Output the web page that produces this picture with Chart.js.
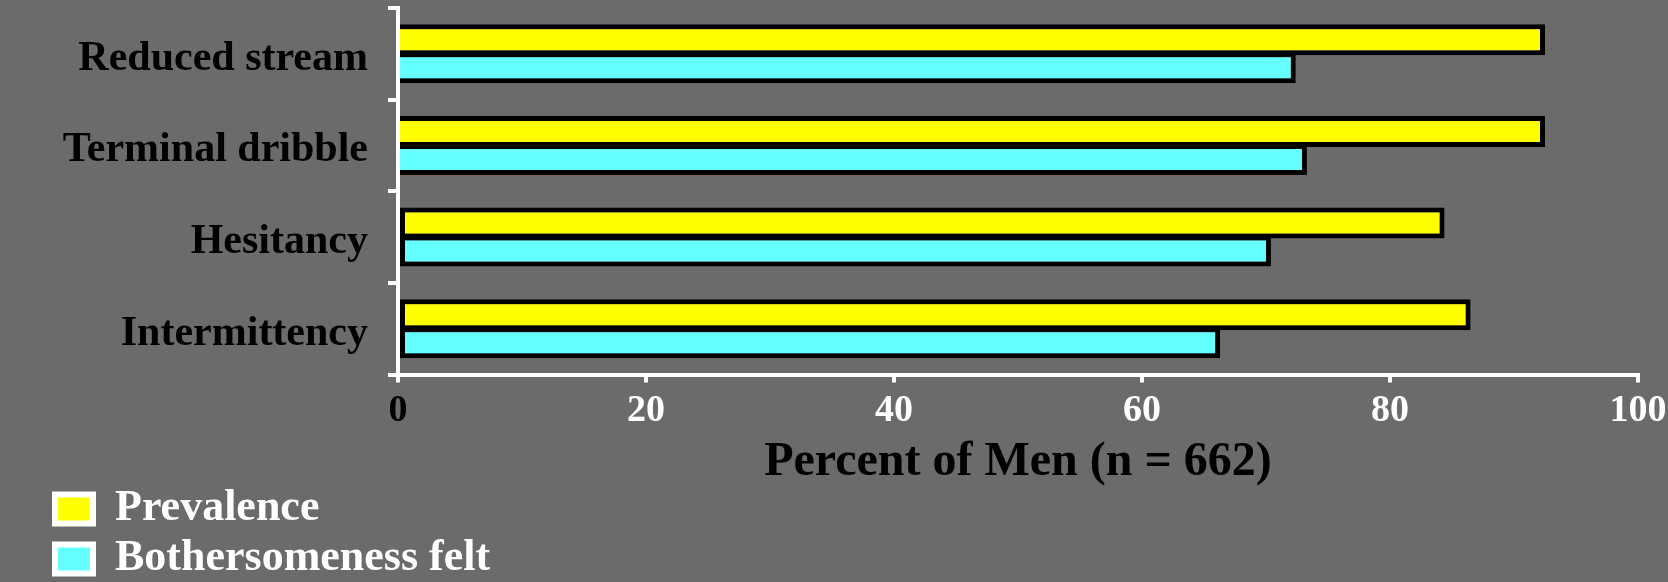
<!DOCTYPE html>
<html><head><meta charset="utf-8">
<script src="https://cdn.jsdelivr.net/npm/chart.js@4.4.0/dist/chart.umd.min.js"></script>
<style>html,body{margin:0;padding:0;background:#6b6b6b;} #wrap{width:1668px;height:582px;position:relative;} canvas{display:block;}</style>
</head><body><div id="wrap"><canvas id="c" width="1668" height="582"></canvas></div>
<script>
const categories = ['Reduced stream', 'Terminal dribble', 'Hesitancy', 'Intermittency'];
const prevalence = [92.5, 92.5, 84.4, 86.5];
const bothersomeness = [72.4, 73.3, 70.4, 66.3];
const seriesNames = ['Prevalence', 'Bothersomeness felt'];
const xTicks = [0, 20, 40, 60, 80, 100];
const xTitle = 'Percent of Men (n = 662)';

const FONT = "'Liberation Serif', 'Times New Roman', serif";

// stack the two legend entries in two rows, as in the reference
const legendWrap = {
  id: 'legendWrap',
  beforeDraw(chart) {
    const lg = chart.legend;
    if (lg) {
      lg.right = lg.left + 520;
      lg.bottom = chart.height;
      lg.height = lg.bottom - lg.top;
    }
  }
};

new Chart(document.getElementById('c'), {
  type: 'bar',
  data: {
    labels: categories,
    datasets: [
      { label: seriesNames[0], data: prevalence, backgroundColor: '#ffff00', borderColor: '#000000', borderWidth: 5,
        borderSkipped: ctx => ctx.dataIndex >= 2 ? false : 'start' },
      { label: seriesNames[1], data: bothersomeness, backgroundColor: '#66ffff', borderColor: '#000000', borderWidth: 5,
        borderSkipped: ctx => ctx.dataIndex >= 2 ? false : 'start' }
    ]
  },
  options: {
    indexAxis: 'y',
    responsive: false,
    animation: false,
    devicePixelRatio: 1,
    categoryPercentage: 0.612,
    barPercentage: 1.107,
    layout: { padding: { top: 8, left: 49, right: 30, bottom: 41 } },
    scales: {
      y: {
        grid: { display: true, drawOnChartArea: false, drawTicks: true, tickLength: 10, color: '#ffffff', lineWidth: 4, offset: true },
        border: { display: true, color: '#ffffff', width: 4 },
        ticks: { color: '#000000', font: { family: FONT, size: 42, weight: 'bold' }, padding: 20, labelOffset: 5 },
        afterFit: s => { s.width = 349; s.paddingTop = 0; s.paddingBottom = 0; }
      },
      x: {
        min: 0, max: 100,
        afterBuildTicks: s => { s.ticks = xTicks.map(v => ({ value: v })); },
        grid: { display: true, drawOnChartArea: false, drawTicks: true, tickLength: 8, color: '#ffffff', lineWidth: 4 },
        border: { display: true, color: '#ffffff', width: 4 },
        ticks: {
          color: ctx => ctx.index === 0 ? '#000000' : '#ffffff',
          font: { family: FONT, size: 38, weight: 'bold' },
          padding: 6,
          maxRotation: 0
        },
        title: { display: true, text: xTitle, color: '#000000', font: { family: FONT, size: 48, weight: 'bold', lineHeight: 0.75 }, padding: { top: 0, bottom: 0 } },
        afterFit: s => { s.height = 106.5; s.paddingLeft = 0; s.paddingRight = 0; }
      }
    },
    plugins: {
      tooltip: { enabled: false },
      legend: {
        position: 'bottom',
        align: 'start',
        labels: {
          boxWidth: 38, boxHeight: 29, padding: 6, color: '#ffffff',
          font: { family: FONT, size: 44, weight: 'bold' },
          generateLabels: chart => chart.data.datasets.map((d, i) => ({
            text: d.label, fillStyle: d.backgroundColor, strokeStyle: '#ffffff', lineWidth: 6,
            fontColor: '#ffffff', hidden: false, datasetIndex: i
          }))
        }
      }
    }
  },
  plugins: [legendWrap]
});
</script>
</body></html>
